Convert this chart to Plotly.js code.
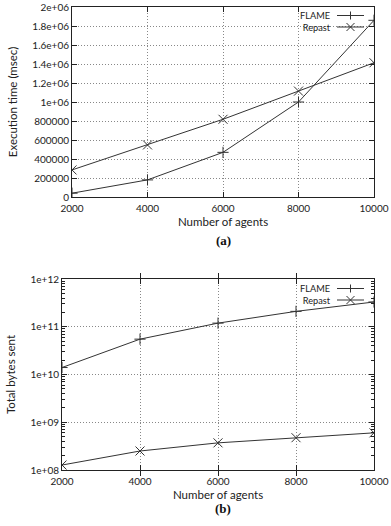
<!DOCTYPE html>
<html>
<head>
<meta charset="utf-8">
<script src="https://cdn.plot.ly/plotly-3.0.1.min.js"></script>
<style>html,body{margin:0;padding:0;background:#fff;}#chart{width:391px;height:526px;}</style>
</head>
<body>
<div id="chart"></div>
<script>
// ---- data ----
const agents = [2000, 4000, 6000, 8000, 10000];
const flameTime = [40000, 180000, 470000, 1000000, 1860000];
const repastTime = [285000, 548000, 818000, 1115000, 1413000];
const flameBytes = [1.4e10, 5.5e10, 1.19e11, 2.1e11, 3.3e11];
const repastBytes = [1.27e8, 2.5e8, 3.7e8, 4.75e8, 6.0e8];
const xTicks = [2000, 4000, 6000, 8000, 10000];
const timeTickVals = [0, 200000, 400000, 600000, 800000, 1000000, 1200000, 1400000, 1600000, 1800000, 2000000];
const timeTickText = ["0", "200000", "400000", "600000", "800000", "1e+06", "1.2e+06", "1.4e+06", "1.6e+06", "1.8e+06", "2e+06"];
const bytesTickVals = [1e8, 1e9, 1e10, 1e11, 1e12];
const bytesTickText = ["1e+08", "1e+09", "1e+10", "1e+11", "1e+12"];
const bytesMinorTicks = [];
[1e8, 1e9, 1e10, 1e11].forEach(d => { for (let m = 2; m <= 9; m++) bytesMinorTicks.push(d * m); });
const seriesNames = ["FLAME", "Repast"];

const W = 391, H = 526;
const FONT = {family: "Lato, 'Open Sans', sans-serif", size: 10, color: "#222"};
const TFONT = {family: "Lato, 'Open Sans', sans-serif", size: 11.5, color: "#222"};
const LFONT = {family: "Lato, 'Open Sans', sans-serif", size: 9.2, color: "#222"};
const LC = "#333";

function px(x) { return x / W; }
function py(y) { return 1 - y / H; }

const lineStyle = {color: LC, width: 1};
const mk = (sym, size) => ({symbol: sym, size: size, color: LC, line: {color: LC, width: 1}});

const traces = [
  {x: agents, y: flameTime, mode: "lines+markers", name: seriesNames[0], line: lineStyle, marker: mk("cross-thin", 8), xaxis: "x", yaxis: "y", showlegend: false},
  {x: agents, y: repastTime, mode: "lines+markers", name: seriesNames[1], line: lineStyle, marker: mk("x-thin", 9), xaxis: "x", yaxis: "y", showlegend: false},
  {x: agents, y: flameBytes, mode: "lines+markers", name: seriesNames[0], line: lineStyle, marker: mk("cross-thin", 8), xaxis: "x2", yaxis: "y2", showlegend: false},
  {x: agents, y: repastBytes, mode: "lines+markers", name: seriesNames[1], line: lineStyle, marker: mk("x-thin", 9), xaxis: "x2", yaxis: "y2", showlegend: false}
];

const axBase = {
  showline: true, linecolor: "#222", linewidth: 1, mirror: "allticks",
  ticks: "inside", ticklen: 5, tickcolor: "#222", tickwidth: 1,
  showgrid: true, gridcolor: "#888", griddash: "1px,2px", gridwidth: 1,
  zeroline: false, tickfont: FONT
};

const bDomain = [py(470), py(279)];

const layout = {
  width: W, height: H,
  margin: {l: 0, r: 0, t: 0, b: 0},
  paper_bgcolor: "#fff", plot_bgcolor: "#fff",
  font: FONT,
  showlegend: false,
  xaxis: Object.assign({}, axBase, {
    domain: [px(72), px(374)], anchor: "y", range: [2000, 10000],
    tickvals: xTicks, ticktext: xTicks.map(String), ticklabelstandoff: 2,
    title: {text: "Number of agents", font: TFONT, standoff: 4}
  }),
  yaxis: Object.assign({}, axBase, {
    domain: [py(197), py(7)], anchor: "x", range: [0, 2000000],
    tickvals: timeTickVals, ticktext: timeTickText,
    title: {text: "Execution time (msec)", font: TFONT, standoff: 12}
  }),
  xaxis2: Object.assign({}, axBase, {
    domain: [px(62), px(374)], anchor: "y2", range: [2000, 10000],
    tickvals: xTicks, ticktext: xTicks.map(String), ticklabelstandoff: 2,
    title: {text: "Number of agents", font: TFONT, standoff: 4}
  }),
  yaxis2: Object.assign({}, axBase, {
    domain: bDomain, anchor: "x2", type: "log", range: [8, 12],
    tickvals: bytesTickVals, ticktext: bytesTickText,
    title: {text: "Total bytes sent", font: TFONT, standoff: 12}
  }),
  yaxis3: {
    domain: bDomain, anchor: "x2", overlaying: "y2", type: "log", range: [8, 12],
    tickvals: bytesMinorTicks, ticktext: bytesMinorTicks.map(() => ""),
    ticks: "inside", ticklen: 3, tickcolor: "#222", tickwidth: 1,
    showline: false, mirror: "allticks", showgrid: false, zeroline: false, showticklabels: false
  },
  annotations: [
    {xref: "paper", yref: "paper", x: px(223), y: py(240), text: "<b>(a)</b>", showarrow: false,
     font: {family: "'Liberation Serif', 'DejaVu Serif', serif", size: 13, color: "#111"}},
    {xref: "paper", yref: "paper", x: px(223), y: py(518), text: "<b>(b)</b>", showarrow: false,
     font: {family: "'Liberation Serif', 'DejaVu Serif', serif", size: 13, color: "#111"}}
  ],
  shapes: []
};

// dummy trace to activate overlay axis for minor ticks
traces.push({x: [], y: [], xaxis: "x2", yaxis: "y3", showlegend: false, hoverinfo: "skip"});

// custom gnuplot-style legends (text left, sample right)
function addLegend(topY) {
  const gap = 11.5;
  layout.annotations.push({xref: "paper", yref: "paper", x: px(332), y: py(topY + gap / 2), xanchor: "right", yanchor: "middle",
    align: "right", text: seriesNames.join("<br>"), showarrow: false, font: LFONT, borderpad: 0});
  const rows = [
    {y: topY, sym: "plus"},
    {y: topY + gap, sym: "x"}
  ];
  rows.forEach(r => {
    layout.shapes.push({type: "line", xref: "paper", yref: "paper", x0: px(337), x1: px(364), y0: py(r.y), y1: py(r.y), line: {color: LC, width: 1}});
    const cx = 350.5, s = 4;
    if (r.sym === "plus") {
      layout.shapes.push({type: "line", xref: "paper", yref: "paper", x0: px(cx), x1: px(cx), y0: py(r.y - s), y1: py(r.y + s), line: {color: LC, width: 1}});
    } else {
      layout.shapes.push({type: "line", xref: "paper", yref: "paper", x0: px(cx - s), x1: px(cx + s), y0: py(r.y - s), y1: py(r.y + s), line: {color: LC, width: 1}});
      layout.shapes.push({type: "line", xref: "paper", yref: "paper", x0: px(cx - s), x1: px(cx + s), y0: py(r.y + s), y1: py(r.y - s), line: {color: LC, width: 1}});
    }
  });
}
addLegend(15.5);
addLegend(288.5);

Plotly.newPlot("chart", traces, layout, {displayModeBar: false, staticPlot: true});
</script>
</body>
</html>
